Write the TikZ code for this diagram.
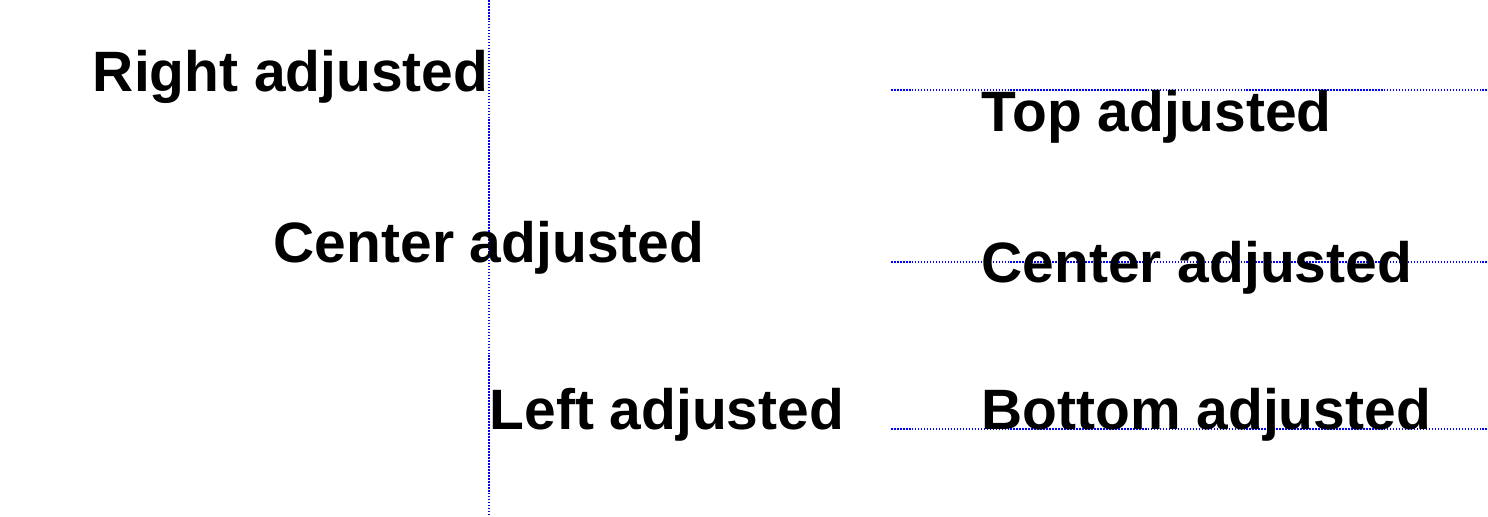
\documentclass[tikz,border=0pt]{standalone}
\usepackage{fontspec}
\usepackage{tikz}
\newfontfamily\labelfont{Liberation Sans}

\begin{document}
\begin{tikzpicture}[x=1cm, y=1cm,
    guide/.style={blue, line width=0.5pt, dash pattern=on 0.45pt off 0.4pt},
    lbl/.style={inner sep=0pt, text depth=0pt, font=\labelfont\bfseries\fontsize{16.2}{20}\selectfont}]
	  \useasboundingbox (0,0) rectangle (14.88,5.16);

	  % guide lines
	  \coordinate (vtop) at (4.89,5.16);
	  \coordinate (vbot) at (4.89,0.02);
	  \coordinate (top1) at (8.91,4.26);  \coordinate (top2) at (14.88,4.26);
	  \coordinate (mid1) at (8.91,2.54);  \coordinate (mid2) at (14.88,2.54);
	  \coordinate (bot1) at (8.91,0.87);  \coordinate (bot2) at (14.88,0.87);
	  \draw[guide] (vtop) -- (vbot);
	  \draw[guide] (top1) -- (top2);
	  \draw[guide] (mid1) -- (mid2);
	  \draw[guide] (bot1) -- (bot2);

	  % horizontal alignment
	  \node[lbl, anchor=base east] (right)   at (4.89,4.24) {Right adjusted};
	  \node[lbl, anchor=base]      (hcenter) at (4.89,2.54) {Center adjusted};
	  \node[lbl, anchor=base west] (left)    at (4.89,0.87) {Left adjusted};

	  % vertical alignment
	  \node[lbl, anchor=north west] (top)     at (9.81,4.26) {Top adjusted};
	  \node[lbl, anchor=west]       (vcenter) at (9.81,2.54) {Center adjusted};
	  \node[lbl, anchor=base west]  (bottom)  at (9.81,0.87) {Bottom adjusted};
\end{tikzpicture}
\end{document}
